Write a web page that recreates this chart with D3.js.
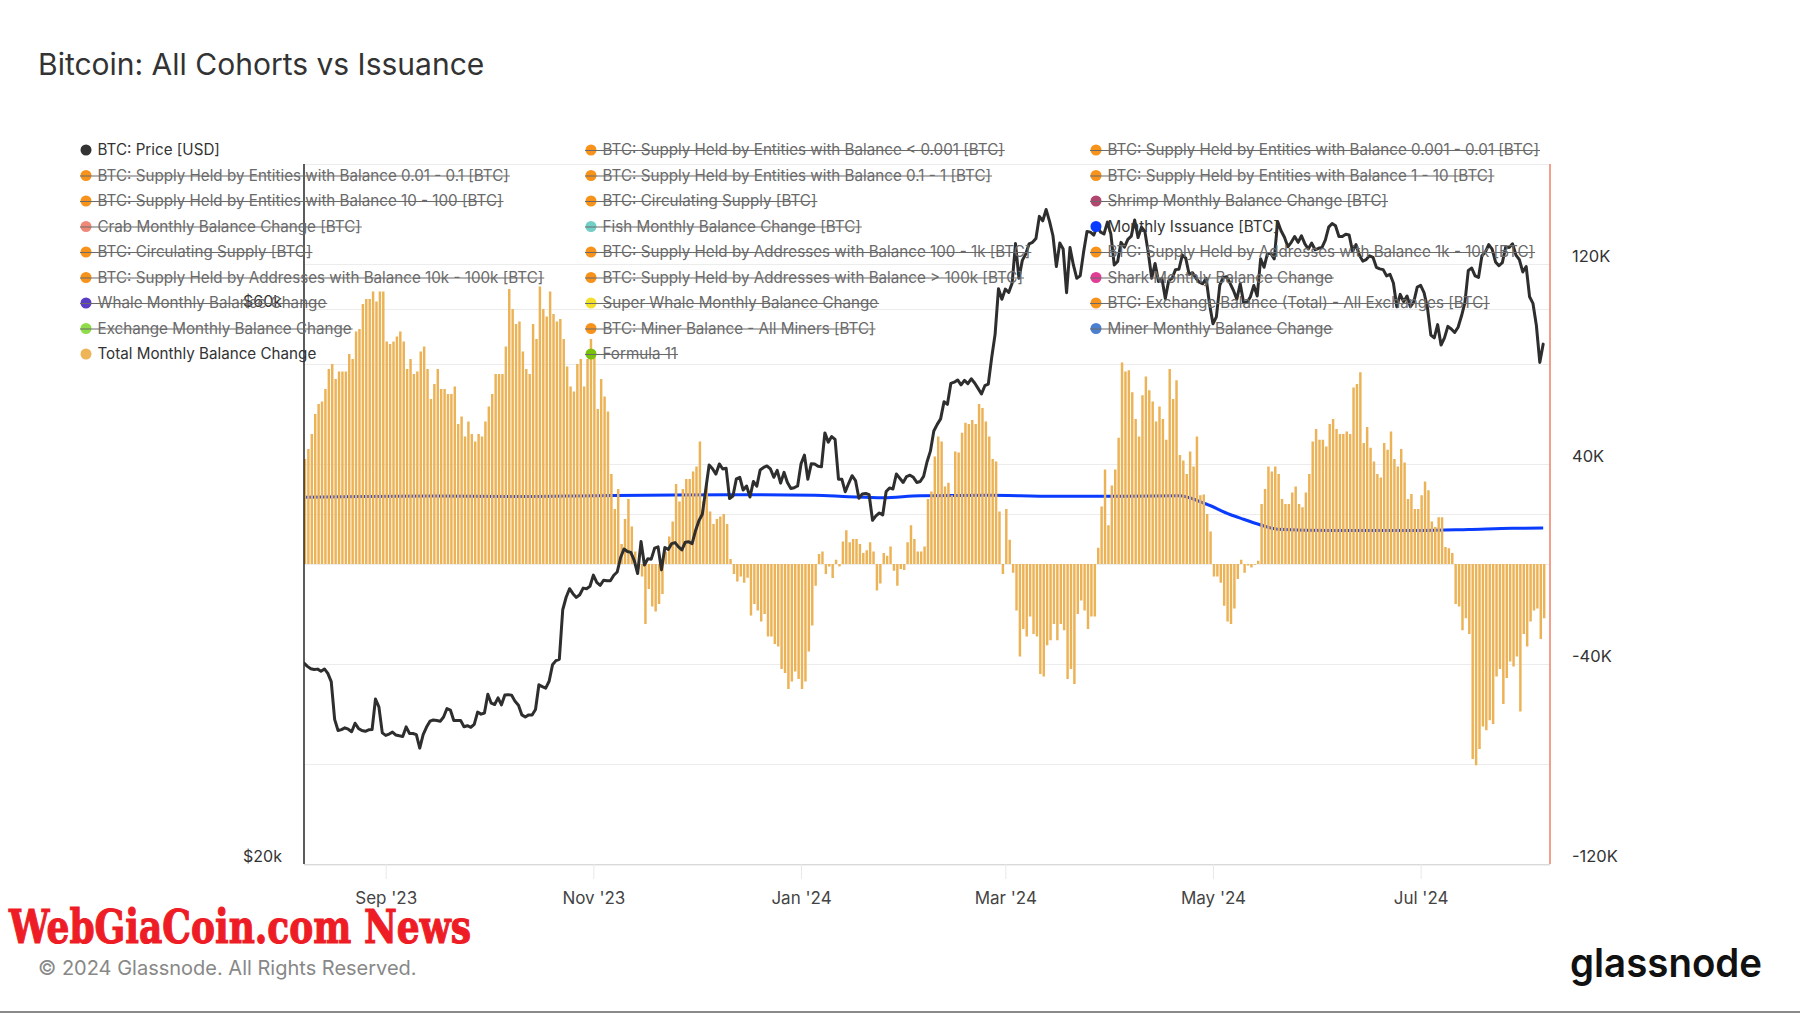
<!DOCTYPE html>
<html>
<head>
<meta charset="utf-8">
<script src="https://cdn.jsdelivr.net/npm/d3@7"></script>
<style>
html,body{margin:0;padding:0;background:#fff;}
svg{display:block;font-family:Inter,"Noto Sans",sans-serif;}
</style>
</head>
<body>
<svg id="chart" width="1800" height="1013"></svg>
<script>
// ---------------- DATA ----------------
const startDate = "2023-08-08";
const endDate = "2024-08-08";

// BTC price [USD, thousands], daily from 2023-08-08 to 2024-08-06
const priceK = [
29.77,29.58,29.44,29.40,29.42,29.30,29.43,29.17,28.70,26.63,26.05,26.10,26.19,26.12,25.99,26.43,26.16,26.05,26.01,26.09,26.10,27.73,27.30,25.93,
25.80,25.87,25.97,25.82,25.78,25.75,26.24,25.90,25.90,25.84,25.16,25.84,26.23,26.54,26.60,26.57,26.53,26.76,27.21,27.13,26.57,26.58,26.58,26.25,26.30,26.22,26.37,27.02,26.91,26.97,
27.99,27.50,27.43,27.79,27.41,27.95,27.97,27.94,27.60,27.39,26.87,26.76,26.87,26.86,27.16,28.52,28.42,28.33,28.72,29.68,29.92,30.00,33.09,33.92,34.50,34.16,33.91,34.09,34.54,34.50,34.67,
35.44,34.94,34.73,35.08,35.05,35.05,35.43,35.66,36.70,37.32,37.14,37.07,36.49,35.55,37.88,36.16,36.60,36.58,37.39,37.48,35.81,37.43,37.29,37.72,37.80,37.48,37.25,37.83,37.86,37.72,
38.69,39.47,39.98,41.98,44.08,43.75,43.29,44.17,43.73,43.79,41.24,41.45,42.89,43.02,41.94,42.28,41.37,42.66,42.26,43.65,43.86,43.99,43.74,43.02,43.61,42.52,43.44,42.58,42.07,42.14,42.28,
44.18,44.95,42.85,44.18,44.16,43.97,43.93,46.97,46.12,46.63,46.37,42.85,42.84,41.80,42.51,43.15,42.74,41.26,41.62,41.66,41.56,39.51,39.85,40.08,39.93,41.82,42.12,42.03,43.30,42.94,42.58,
43.08,43.20,43.01,42.58,42.66,43.09,44.34,45.30,47.15,47.77,48.29,49.96,49.70,51.80,51.93,52.16,51.66,52.12,51.78,52.28,51.85,51.30,50.73,51.57,51.73,54.52,57.09,62.50,61.20,
62.44,62.03,63.17,68.33,63.80,66.10,66.93,68.30,68.50,69.02,72.12,71.48,73.10,71.40,69.40,65.30,68.40,67.60,62.00,67.80,65.50,63.80,64.10,67.20,70.00,69.90,69.50,70.75,69.90,69.65,71.30,
69.65,65.50,65.95,68.50,67.85,68.90,69.35,71.60,69.15,70.60,70.00,67.10,63.80,65.70,63.40,63.80,61.30,63.50,63.80,64.90,64.95,66.80,66.40,64.30,64.50,63.80,63.30,63.10,63.80,60.60,
58.30,59.10,62.90,63.90,64.00,63.20,62.30,61.20,63.10,60.80,60.80,61.50,62.90,61.60,66.30,65.20,67.00,67.00,66.30,71.40,70.10,69.20,67.90,68.50,69.30,68.50,69.40,68.30,67.60,68.40,67.50,
67.70,67.80,68.80,70.60,71.10,70.80,69.30,69.30,69.60,69.50,67.30,68.20,66.80,66.00,66.20,66.70,66.50,65.20,65.00,64.90,64.10,64.30,63.20,60.30,61.80,60.90,61.60,60.30,60.90,62.70,
62.90,62.00,60.20,57.00,56.70,58.20,55.90,56.70,58.00,57.70,57.30,57.90,59.20,60.80,64.80,65.10,64.10,63.90,66.70,67.20,68.20,67.60,65.90,65.40,65.80,67.90,67.80,68.30,66.80,66.20,64.60,
65.30,61.50,60.70,58.10,54.00,56.00
];

// Total Monthly Balance Change [BTC, thousands], daily from 2023-08-08
const balanceK = [
42,46,52,60,64,65,70,78,80,74,
77,77,77,84,82,93,94,104,106,106,
109,105,109,109,89,88,89,91,93,89,
78,82,76,77,85,87,78,66,72,78,
70,70,68,68,71,56,59,51,57,52,
49,52,51,57,63,68,76,76,76,87,
110,102,96,97,85,78,76,96,90,111,
102,99,109,100,97,98,90,79,71,69,
80,82,71,82,90,83,62,74,67,61,
36,22,30,8,18,26,15,5,-2,-5,
-24,-10,-17,-19,-16,-12,5,11,17,32,
25,30,34,34,37,39,49,25,32,21,
16,18,19,20,16,2,-4,-7,-5,-7.5,
-5.5,-20.6,-16,-18.6,-23,-20,-29,-29,-32,-33,
-42,-43.6,-50,-47,-43,-46,-50,-47,-35,-24.6,
-8.7,4,5,-4,-1,-5.6,1.7,-1,9,13.5,
8.7,10,10,8,4.4,5.5,8.7,5,-10.6,-7.8,
4.4,3.3,7,-2.7,-8.7,-2,-2.4,8.7,15.5,10,
5,5,7,26,29,43,51,49,31,32.5,
27.5,45,44.6,52.5,56.5,56,57.6,56,64,62.4,
57,51,42,41,21,-4,22,9.7,-3.5,-18.6,
-37,-26,-29,-21,-28,-29,-44,-45,-32.5,-30.5,
-24,-30.5,-24,-26.5,-46,-42,-48,-20,-14.6,-18.6,
-26,-21,-21,6.5,23,37.8,15.5,31.4,37.8,50.5,
80.6,77,77.5,68.7,58,51,67.5,75,69.5,65,
57,63,58,49.7,78,66,73.5,43.6,41.4,36,
45,39,51,27.5,27.8,20,13,-5,-5,-7.5,
-16.7,-23,-24,-17.8,-6,1.7,-3.5,-0.6,-1.4,-0.3,
1.3,24,30,39,37,39,36,26,24,24,
28.6,31,24,22.7,28.6,36,49,54,49.7,49.7,
47,56,58,54,52,52,53,52,70.6,72,
76.7,48.4,54.8,46.5,41,36,34.6,48.4,45.7,53,
42,39,46,40.6,26,28,22,22,27.5,33,
29.5,17,14.8,18.7,18.7,6.8,6.3,4.4,-16,-17,
-26.5,-21.7,-28,-78,-80.5,-74,-65,-66.5,-62.5,-64,
-45,-42,-56,-45.6,-39,-41,-37,-59,-28,-33,
-23,-18.6,-17.8,-30,-21.7
];

// Monthly Issuance [BTC, thousands]
const issuanceDates = ["2023-08-08","2023-08-25","2023-09-15","2023-10-10","2023-11-01","2023-11-25","2023-12-15","2024-01-05","2024-01-15","2024-01-25","2024-02-05","2024-02-25","2024-03-15","2024-04-05","2024-04-21","2024-04-29","2024-05-06","2024-05-10","2024-05-16","2024-05-20","2024-06-05","2024-07-01","2024-07-15","2024-07-28","2024-08-06"];
const issuanceK = [26.7,27.0,27.2,27.0,27.3,27.6,27.7,27.5,26.9,26.5,27.3,27.5,27.1,27.1,27.3,24.0,19.8,17.9,15.2,13.9,13.4,13.4,13.8,14.3,14.4];

// Axes
const xTickDates = ["2023-09-01","2023-11-01","2024-01-01","2024-03-01","2024-05-01","2024-07-01"];
const xTickLabels = ["Sep '23","Nov '23","Jan '24","Mar '24","May '24","Jul '24"];
const leftGridTicks = [40000, 60000];
const leftLabelTicks = [20000, 60000];
const leftLabels = ["$20k", "$60k"];
const rightGridTicks = [-120000,-80000,-40000,0,40000,80000,120000,160000];
const rightLabelTicks = [-120000,-40000,40000,120000];
const rightLabels = ["-120K","-40K","40K","120K"];

// Legend
const legendLabels = [
"BTC: Price [USD]",
"BTC: Supply Held by Entities with Balance < 0.001 [BTC]",
"BTC: Supply Held by Entities with Balance 0.001 - 0.01 [BTC]",
"BTC: Supply Held by Entities with Balance 0.01 - 0.1 [BTC]",
"BTC: Supply Held by Entities with Balance 0.1 - 1 [BTC]",
"BTC: Supply Held by Entities with Balance 1 - 10 [BTC]",
"BTC: Supply Held by Entities with Balance 10 - 100 [BTC]",
"BTC: Circulating Supply [BTC]",
"Shrimp Monthly Balance Change [BTC]",
"Crab Monthly Balance Change [BTC]",
"Fish Monthly Balance Change [BTC]",
"Monthly Issuance [BTC]",
"BTC: Circulating Supply [BTC]",
"BTC: Supply Held by Addresses with Balance 100 - 1k [BTC]",
"BTC: Supply Held by Addresses with Balance 1k - 10k [BTC]",
"BTC: Supply Held by Addresses with Balance 10k - 100k [BTC]",
"BTC: Supply Held by Addresses with Balance > 100k [BTC]",
"Shark Monthly Balance Change",
"Whale Monthly Balance Change",
"Super Whale Monthly Balance Change",
"BTC: Exchange Balance (Total) - All Exchanges [BTC]",
"Exchange Monthly Balance Change",
"BTC: Miner Balance - All Miners [BTC]",
"Miner Monthly Balance Change",
"Total Monthly Balance Change",
"Formula 11"
];
const legendColors = [
"#333333","#F7931A","#F7931A","#F7931A","#F7931A","#F7931A","#F7931A","#F7931A","#B2466E",
"#F08878","#72CFC6","#0A3CFF","#F7931A","#F7931A","#F7931A","#F7931A","#F7931A","#E23D96",
"#5B3CC4","#F3E02B","#F7931A","#8EDC4A","#F7931A","#4A80CF","#EDB458","#79C10A"
];
const legendActive = [
true,false,false,false,false,false,false,false,false,
false,false,true,false,false,false,false,false,false,
false,false,false,false,false,false,true,false
];

// ---------------- DRAW ----------------
const M = {left:304, right:1550, top:164, bottom:864};
const svg = d3.select("#chart");
const parse = d3.utcParse("%Y-%m-%d");
const t0 = parse(startDate), t1 = parse(endDate);
const dayDate = i => d3.utcDay.offset(t0, i);

const x = d3.scaleUtc().domain([t0, t1]).range([M.left, M.right]);
const yL = d3.scaleLog().domain([20000, 80000]).range([M.bottom, M.top]);
const yR = d3.scaleLinear().domain([-120000, 160000]).range([M.bottom, M.top]);

const priceData = priceK.map((v,i)=>({date:dayDate(i), value:v*1000}));
const balanceData = balanceK.map((v,i)=>({date:dayDate(i), value:v*1000}));
const issuanceData = issuanceDates.map((d,i)=>({date:parse(d), value:issuanceK[i]*1000}));

svg.append("defs").append("clipPath").attr("id","plotClip")
  .append("rect").attr("x",M.left).attr("y",M.top-2)
  .attr("width",M.right-M.left).attr("height",M.bottom-M.top+2);

// gridlines
const grid = svg.append("g");
grid.selectAll("line.gr").data(rightGridTicks.filter(d=>d>-120000)).join("line")
  .attr("x1",M.left).attr("x2",M.right)
  .attr("y1",d=>Math.round(yR(d))+0.5).attr("y2",d=>Math.round(yR(d))+0.5)
  .attr("stroke","#ececec").attr("stroke-width",1);
grid.selectAll("line.gl").data(leftGridTicks).join("line")
  .attr("x1",M.left).attr("x2",M.right)
  .attr("y1",d=>Math.round(yL(d))+0.5).attr("y2",d=>Math.round(yL(d))+0.5)
  .attr("stroke","#ececec").attr("stroke-width",1);
// bottom border
svg.append("line").attr("x1",M.left).attr("x2",M.right)
  .attr("y1",M.bottom+0.5).attr("y2",M.bottom+0.5).attr("stroke","#d9d9d9");
svg.append("line").attr("x1",M.left).attr("x2",M.right)
  .attr("y1",M.bottom+1.5).attr("y2",M.bottom+1.5).attr("stroke","#f0f0f0");

// x axis
const xAxis = d3.axisBottom(x)
  .tickValues(xTickDates.map(parse))
  .tickFormat((d,i)=>xTickLabels[i])
  .tickSize(15).tickPadding(13);
svg.append("g").attr("transform",`translate(0,${M.bottom})`).call(xAxis)
  .call(g=>{
    g.attr("font-family",null).attr("font-size",17);
    g.select(".domain").remove();
    g.selectAll(".tick line").attr("stroke","#e8e8e8");
    g.selectAll(".tick text").attr("fill","#444");
  });

// left axis (price, log)
const leftAxis = d3.axisLeft(yL).tickValues(leftLabelTicks)
  .tickFormat((d,i)=>leftLabels[i]).tickSize(0).tickPadding(22);
svg.append("g").attr("transform",`translate(${M.left},0)`).call(leftAxis)
  .call(g=>{
    g.attr("font-family",null).attr("font-size",16);
    g.select(".domain").remove();
    g.selectAll(".tick text").attr("fill","#333").attr("dy","-0.18em");
  });

// right axis
const rightAxis = d3.axisRight(yR).tickValues(rightLabelTicks)
  .tickFormat((d,i)=>rightLabels[i]).tickSize(0).tickPadding(22);
svg.append("g").attr("transform",`translate(${M.right},0)`).call(rightAxis)
  .call(g=>{
    g.attr("font-family",null).attr("font-size",16.5);
    g.select(".domain").remove();
    g.selectAll(".tick text").attr("fill","#333").attr("dy","-0.18em");
  });

const plot = svg.append("g").attr("clip-path","url(#plotClip)");

// issuance line (behind bars)
plot.append("path").datum(issuanceData)
  .attr("fill","none").attr("stroke","#0A3CFF").attr("stroke-width",3)
  .attr("stroke-linejoin","round")
  .attr("d", d3.line().x(d=>x(d.date)).y(d=>yR(d.value)).curve(d3.curveMonotoneX));

// bars
const barW = 2.45;
plot.selectAll("rect.bar").data(balanceData).join("rect")
  .attr("class","bar")
  .attr("x", d=>x(d.date) + 1 - barW/2)
  .attr("width", barW)
  .attr("y", d=>yR(Math.max(0,d.value)))
  .attr("height", d=>Math.abs(yR(d.value)-yR(0)))
  .attr("fill","#ECB256");

// price line
plot.append("path").datum(priceData)
  .attr("fill","none").attr("stroke","#2e2e2e").attr("stroke-width",3)
  .attr("stroke-linejoin","round").attr("stroke-linecap","round")
  .attr("d", d3.line().x(d=>x(d.date)).y(d=>yL(d.value)));

// axis lines
svg.append("line").attr("x1",M.left).attr("x2",M.left)
  .attr("y1",M.top).attr("y2",M.bottom).attr("stroke","#333").attr("stroke-width",1.6);
svg.append("line").attr("x1",M.right).attr("x2",M.right)
  .attr("y1",M.top).attr("y2",M.bottom).attr("stroke","#F2876E").attr("stroke-width",1.6);

// legend
const legend = svg.append("g").attr("font-size",15.2);
legendLabels.forEach((lab,i)=>{
  const col = i%3, row = Math.floor(i/3);
  const cx = 86 + col*505, cy = 150 + row*25.5;
  const g = legend.append("g");
  g.append("circle").attr("cx",cx).attr("cy",cy).attr("r",5.5).attr("fill",legendColors[i]);
  const t = g.append("text").attr("x",cx+11.5).attr("y",cy).attr("dy","0.36em")
    .attr("fill", legendActive[i] ? "#333" : "#6a6a6a").text(lab);
  if(!legendActive[i]){
    const w = t.node().getComputedTextLength();
    g.append("line").attr("x1",cx-6).attr("x2",cx+11.5+w+1)
      .attr("y1",cy+0.5).attr("y2",cy+0.5).attr("stroke","#6a6a6a").attr("stroke-width",1.1);
  }
});

// title
svg.append("text").attr("x",38).attr("y",75).attr("font-size",30)
  .attr("fill","#333").text("Bitcoin: All Cohorts vs Issuance");

// watermark
svg.append("text").attr("x",9).attr("y",943)
  .attr("font-family","'DejaVu Serif',serif").attr("font-weight","bold")
  .attr("font-size",47).attr("fill","#EE1C25")
  .attr("stroke","#EE1C25").attr("stroke-width",1.2)
  .attr("textLength",462).attr("lengthAdjust","spacingAndGlyphs")
  .text("WebGiaCoin.com News");

// footer
svg.append("text").attr("x",38).attr("y",975).attr("font-size",20)
  .attr("fill","#888").text("© 2024 Glassnode. All Rights Reserved.");

// logo
svg.append("text").attr("x",1570).attr("y",977).attr("font-size",40)
  .attr("font-weight",600).attr("fill","#111")
  .attr("textLength",192).attr("lengthAdjust","spacingAndGlyphs")
  .text("glassnode");

// bottom rule
svg.append("rect").attr("x",0).attr("y",1011).attr("width",1800).attr("height",2).attr("fill","#8a8a8a");
</script>
</body>
</html>
